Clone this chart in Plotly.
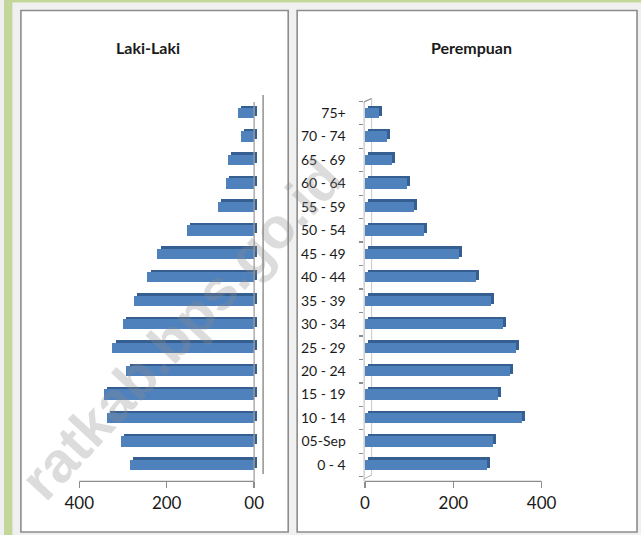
import plotly.graph_objects as go

W, H = 641, 535


def px(x):
    return x / W


def py(y):
    return 1 - y / H


# ---------------- data ----------------
age_groups = ["0 - 4", "05-Sep", "10 - 14", "15 - 19", "20 - 24", "25 - 29",
              "30 - 34", "35 - 39", "40 - 44", "45 - 49", "50 - 54", "55 - 59",
              "60 - 64", "65 - 69", "70 - 74", "75+"]
laki = [283, 305, 336, 344, 292, 324, 299, 274, 244, 221, 153, 83, 64, 59, 30, 38]
perempuan = [276, 290, 355, 301, 328, 341, 313, 286, 252, 213, 133, 110, 94, 61, 50, 32]
tick_vals = [0, 200, 400]
left_tick_text = ["00", "200", "400"]
right_tick_text = ["0", "200", "400"]
titles = ["Laki-Laki", "Perempuan"]
watermark = "ratkab.bps.go.id"

FRONT = "#4f81bd"
SIDE = "#365f91"
FONT = "Lato"

ydom = [py(481.4), py(96.6)]
yrange = [-0.7, 15.7]

fig = go.Figure()

# left panel (male) - depth face then front face
fig.add_trace(go.Bar(y=age_groups, x=laki, base=-7, orientation="h",
                     width=0.44, offset=-0.12, marker=dict(color=SIDE, line=dict(width=0)),
                     xaxis="x", yaxis="y", hoverinfo="skip", showlegend=False))
fig.add_trace(go.Bar(y=age_groups, x=laki, base=0, orientation="h",
                     width=0.44, offset=-0.22, marker=dict(color=FRONT, line=dict(width=0)),
                     xaxis="x", yaxis="y", name=titles[0], showlegend=False))
# right panel (female)
fig.add_trace(go.Bar(y=age_groups, x=perempuan, base=7, orientation="h",
                     width=0.44, offset=-0.12, marker=dict(color=SIDE, line=dict(width=0)),
                     xaxis="x2", yaxis="y2", hoverinfo="skip", showlegend=False))
fig.add_trace(go.Bar(y=age_groups, x=perempuan, base=0, orientation="h",
                     width=0.44, offset=-0.22, marker=dict(color=FRONT, line=dict(width=0)),
                     xaxis="x2", yaxis="y2", name=titles[1], showlegend=False))

GRAY = "#8c8c8c"
shapes = [
    # green frame strips
    dict(type="rect", xref="paper", yref="paper", x0=0, x1=px(8.5), y0=0, y1=1,
         fillcolor="#c4d79b", line=dict(width=0), layer="below"),
    dict(type="rect", xref="paper", yref="paper", x0=0, x1=1, y0=py(2.5), y1=1,
         fillcolor="#c4d79b", line=dict(width=0), layer="below"),
    # panels
    dict(type="rect", xref="paper", yref="paper", x0=px(17), x1=px(286), y0=py(532), y1=py(10.5),
         fillcolor="white", line=dict(color=GRAY, width=1.6), layer="below"),
    dict(type="rect", xref="paper", yref="paper", x0=px(295), x1=px(637), y0=py(532), y1=py(10.5),
         fillcolor="white", line=dict(color=GRAY, width=1.6), layer="below"),
    # left axis lines
    dict(type="line", xref="x", yref="paper", x0=400, x1=0, y0=ydom[0], y1=ydom[0],
         line=dict(color=GRAY, width=1.3)),
    dict(type="line", xref="x", yref="paper", x0=0, x1=0, y0=ydom[0], y1=py(102),
         line=dict(color="#a0a0a0", width=1.3)),
    dict(type="line", xref="x", yref="paper", x0=-20.5, x1=-20.5, y0=py(474), y1=py(95),
         line=dict(color="#808080", width=1.3)),
    # right axis lines
    dict(type="line", xref="x2", yref="paper", x0=0, x1=400, y0=ydom[0], y1=ydom[0],
         line=dict(color=GRAY, width=1.3)),
    dict(type="line", xref="x2", yref="paper", x0=-2.9, x1=-2.9, y0=ydom[0], y1=py(102),
         line=dict(color=GRAY, width=1.3)),
    dict(type="line", xref="x2", yref="paper", x0=-2.9, x1=15, y0=py(102), y1=py(98.5),
         line=dict(color=GRAY, width=1.3)),
    dict(type="line", xref="x2", yref="paper", x0=15, x1=15, y0=py(98.5), y1=py(475),
         line=dict(color="#c8c8c8", width=1.0), layer="below"),
    dict(type="line", xref="x2", yref="paper", x0=-2.9, x1=15, y0=py(479), y1=py(475),
         line=dict(color="#b0b0b0", width=1.0)),
]

annotations = [
    dict(text="<b>%s</b>" % titles[0], x=px(145), y=py(48), xref="paper", yref="paper",
         xanchor="center", yanchor="middle",
         showarrow=False, font=dict(family=FONT, size=16, color="#1a1a1a")),
    dict(text="<b>%s</b>" % titles[1], x=px(470), y=py(48), xref="paper", yref="paper",
         xanchor="center", yanchor="middle",
         showarrow=False, font=dict(family=FONT, size=16, color="#1a1a1a")),
    dict(text="<b>%s</b>" % watermark, x=px(178), y=py(329), xref="paper", yref="paper",
         xanchor="center", yanchor="middle",
         showarrow=False, textangle=-47,
         font=dict(family="Liberation Sans", size=57, color="rgba(140,140,140,0.30)")),
]

axis_common = dict(showgrid=False, zeroline=False, fixedrange=True)

fig.update_layout(
    width=W, height=H,
    margin=dict(l=0, r=0, t=0, b=0),
    paper_bgcolor="#f0f0f0",
    plot_bgcolor="rgba(0,0,0,0)",
    barmode="overlay",
    bargap=0,
    showlegend=False,
    font=dict(family=FONT, color="#1a1a1a"),
    xaxis=dict(domain=[px(60), px(270)], range=[435.7, -41.6], anchor="y",
               tickmode="array", tickvals=tick_vals, ticktext=left_tick_text,
               ticks="outside", ticklen=6, tickcolor=GRAY, tickwidth=1.3,
               tickfont=dict(family=FONT, size=17, color="#1a1a1a"),
               showline=False, **axis_common),
    yaxis=dict(domain=ydom, range=yrange, anchor="x", type="category",
               showticklabels=False, ticks="", showline=False, **axis_common),
    xaxis2=dict(domain=[px(362), px(600)], range=[-2.9, 532.7], anchor="y2",
                tickmode="array", tickvals=tick_vals, ticktext=right_tick_text,
                ticks="outside", ticklen=6, tickcolor=GRAY, tickwidth=1.3,
                tickfont=dict(family=FONT, size=17, color="#1a1a1a"),
                showline=False, **axis_common),
    yaxis2=dict(domain=ydom, range=yrange, anchor="x2", type="category",
                ticks="outside", tickson="boundaries", ticklen=4, tickcolor=GRAY,
                tickwidth=1.3, ticklabelstandoff=17,
                tickfont=dict(family=FONT, size=14, color="#1a1a1a"),
                showline=False, **axis_common),
    shapes=shapes,
    annotations=annotations,
)

fig.write_html("out.html",
               config={"displayModeBar": False, "staticPlot": True},
               post_script="document.body.style.margin='0';document.body.style.overflow='hidden';")
